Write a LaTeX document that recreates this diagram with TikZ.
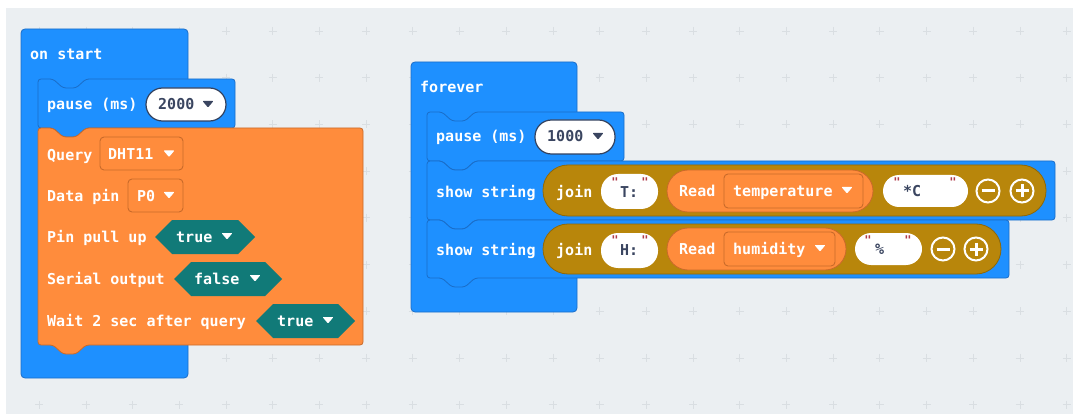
\documentclass[tikz,border=0pt]{standalone}
\usepackage{fontspec}
\newfontfamily\blk{DejaVu Sans Mono}
\definecolor{panel}{HTML}{EBEFF2}
\definecolor{gridc}{HTML}{D9DEE2}
\definecolor{mblue}{HTML}{1E90FF}
\definecolor{mblueline}{HTML}{1A6DC8}
\definecolor{morange}{HTML}{FF8C3C}
\definecolor{morangeline}{HTML}{C96A2A}
\definecolor{mteal}{HTML}{117A78}
\definecolor{mgold}{HTML}{B8860B}
\definecolor{mgoldline}{HTML}{8E6808}
\definecolor{fieldtxt}{HTML}{3A4560}
\definecolor{ovalline}{HTML}{34425E}
\definecolor{quotec}{HTML}{B03A48}
\newcommand\stmtblk[5]{%
  \path[#5,rounded corners=3pt] (#1,#2) -- ({#1+15},#2) -- ({#1+25},{#2+9}) -- ({#1+38},{#2+9}) -- ({#1+48},#2) -- (#3,#2) -- (#3,#4) -- ({#1+48},#4) -- ({#1+38},{#4+9}) -- ({#1+25},{#4+9}) -- ({#1+15},#4) -- (#1,#4) -- cycle;}
\newcommand\hexfield[4]{% x1 x2 cy halfheight
  \path[fill=mteal] (#1,#3) -- ({#1+17},{#3-#4}) -- ({#2-17},{#3-#4}) -- (#2,#3) -- ({#2-17},{#3+#4}) -- ({#1+17},{#3+#4}) -- cycle;}
\newcommand\dtri[3]{%
  \fill[#3,rounded corners=0.8pt] ({#1-5.5},{#2-3}) -- ({#1+5.5},{#2-3}) -- (#1,{#2+3.5}) -- cycle;}
\tikzset{
  lbl/.style={font=\blk\bfseries\fontsize{15}{18}\selectfont, text=white, anchor=west, inner sep=0pt, text height=11pt, text depth=0pt},
  flbl/.style={lbl, text=fieldtxt},
  qmark/.style={font=\blk\bfseries\fontsize{12}{12}\selectfont, text=quotec, inner sep=0pt},
  blueblk/.style={fill=mblue, draw=mblueline, line width=0.8pt},
  orangeblk/.style={fill=morange, draw=morangeline, line width=0.8pt},
  ddbox/.style={fill=morange, draw=morangeline, line width=0.9pt, rounded corners=4pt},
  numoval/.style={fill=white, draw=ovalline, line width=1.2pt, rounded corners=16.5pt},
  stroval/.style={fill=white, rounded corners=17pt},
  pm/.style={circle, draw=white, line width=2pt, minimum size=23pt, inner sep=0pt},
}
\begin{document}
\begin{tikzpicture}[x=1pt,y=-1pt]
\useasboundingbox (0,0) rectangle (1073,414);
\fill[white] (0,0) rectangle (1073,414);
\fill[panel] (6,8) rectangle (1073,414);
\foreach \i in {0,...,22} \foreach \j in {0,...,8} {
  \draw[gridc, line width=0.8pt] ({39.2+46.7*\i-4},{31+46.7*\j}) -- ++(8,0) ({39.2+46.7*\i},{31+46.7*\j-4}) -- ++(0,8);
}
% ---------- on start ----------
\path[fill=mblue, draw=mblueline, line width=0.8pt, rounded corners=4pt] (21,29) rectangle (188,378);
\node[lbl] (onstart) at (30,54) {on start};
\stmtblk{38}{79}{235}{128}{blueblk}
\node[lbl] (pause1) at (47,104) {pause (ms)};
\path[numoval] (146,88) rectangle (226,121);
\node[flbl] (v2000) at (158,104) {2000};
\dtri{208}{104}{fieldtxt}
\stmtblk{38}{128}{363}{345}{orangeblk}
\node[lbl] (query) at (47,155) {Query};
\path[ddbox] (100,137) rectangle (183,170);
\node[lbl] (dht) at (108,154) {DHT11};
\dtri{169}{153.5}{white}
\node[lbl] (datapin) at (47,196) {Data pin};
\path[ddbox] (128,179) rectangle (183,212);
\node[lbl] (pzero) at (137,196) {P0};
\dtri{169}{195}{white}
\node[lbl] (pullup) at (47,237) {Pin pull up};
\hexfield{155}{255}{237}{17}
\node[lbl] (true1) at (176,237) {true};
\dtri{227}{236}{white}
\node[lbl] (serial) at (47,279) {Serial output};
\hexfield{174}{282}{279}{17}
\node[lbl] (false1) at (194,279) {false};
\dtri{255}{278}{white}
\node[lbl] (wait) at (47,321) {Wait 2 sec after query};
\hexfield{256}{355}{321}{17}
\node[lbl] (true2) at (277,321) {true};
\dtri{328}{320}{white}
% ---------- forever ----------
\path[fill=mblue, draw=mblueline, line width=0.8pt, rounded corners=4pt] (411,62) rectangle (577,312);
\node[lbl] (forever) at (420,87) {forever};
\stmtblk{427}{112}{624}{161}{blueblk}
\node[lbl] (pause2) at (436,136) {pause (ms)};
\path[numoval] (535,120) rectangle (615,154);
\node[flbl] (v1000) at (547,136) {1000};
\dtri{598}{136}{fieldtxt}
% show string 1
\stmtblk{427}{161}{1055}{220}{blueblk}
\node[lbl] (ss1) at (436,192) {show string};
\path[fill=mgold, draw=mgoldline, line width=0.8pt, rounded corners=25pt] (543,165) rectangle (1046,216);
\node[lbl] (join1) at (556,192) {join};
\path[stroval] (601,174) rectangle (658,209);
\node[flbl] (tcol) at (620,192) {T:};
\node[qmark] (q1a) at (615,182) {"};
\node[qmark] (q1b) at (645,182) {"};
\path[fill=morange, draw=morangeline, line width=0.8pt, rounded corners=21pt] (667,170) rectangle (873,212);
\node[lbl] (read1) at (679,191) {Read};
\path[ddbox] (724,174) rectangle (863,208);
\node[lbl] (temp) at (733,191) {temperature};
\dtri{847}{190}{white}
\path[stroval, rounded corners=16pt] (883,175) rectangle (968,207);
\node[flbl] (starc) at (903,191) {*C};
\node[qmark] (q2a) at (897,182) {"};
\node[qmark] (q2b) at (953,182) {"};
\node[pm] (minus1) at (988,191) {};
\draw[white, line width=3pt] (981.5,191) -- (994.5,191);
\node[pm] (plus1) at (1022,191) {};
\draw[white, line width=3pt] (1015.5,191) -- (1028.5,191) (1022,184.5) -- (1022,197.5);
% show string 2
\stmtblk{427}{220}{1009}{278}{blueblk}
\node[lbl] (ss2) at (436,250) {show string};
\path[fill=mgold, draw=mgoldline, line width=0.8pt, rounded corners=25pt] (543,224) rectangle (1001,274);
\node[lbl] (join2) at (556,250) {join};
\path[stroval] (601,233) rectangle (658,268);
\node[flbl] (hcol) at (620,250) {H:};
\node[qmark] (q3a) at (615,240) {"};
\node[qmark] (q3b) at (645,240) {"};
\path[fill=morange, draw=morangeline, line width=0.8pt, rounded corners=21pt] (667,228) rectangle (846,270);
\node[lbl] (read2) at (679,249) {Read};
\path[ddbox] (724,232) rectangle (835,266);
\node[lbl] (hum) at (733,249) {humidity};
\dtri{820}{248}{white}
\path[stroval, rounded corners=16pt] (855,233) rectangle (922,265);
\node[flbl] (pct) at (875,249) {\%};
\node[qmark] (q4a) at (868,240) {"};
\node[qmark] (q4b) at (908,240) {"};
\node[pm] (minus2) at (943,249) {};
\draw[white, line width=3pt] (936.5,249) -- (949.5,249);
\node[pm] (plus2) at (976,249) {};
\draw[white, line width=3pt] (969.5,249) -- (982.5,249) (976,242.5) -- (976,255.5);
\end{tikzpicture}
\end{document}
